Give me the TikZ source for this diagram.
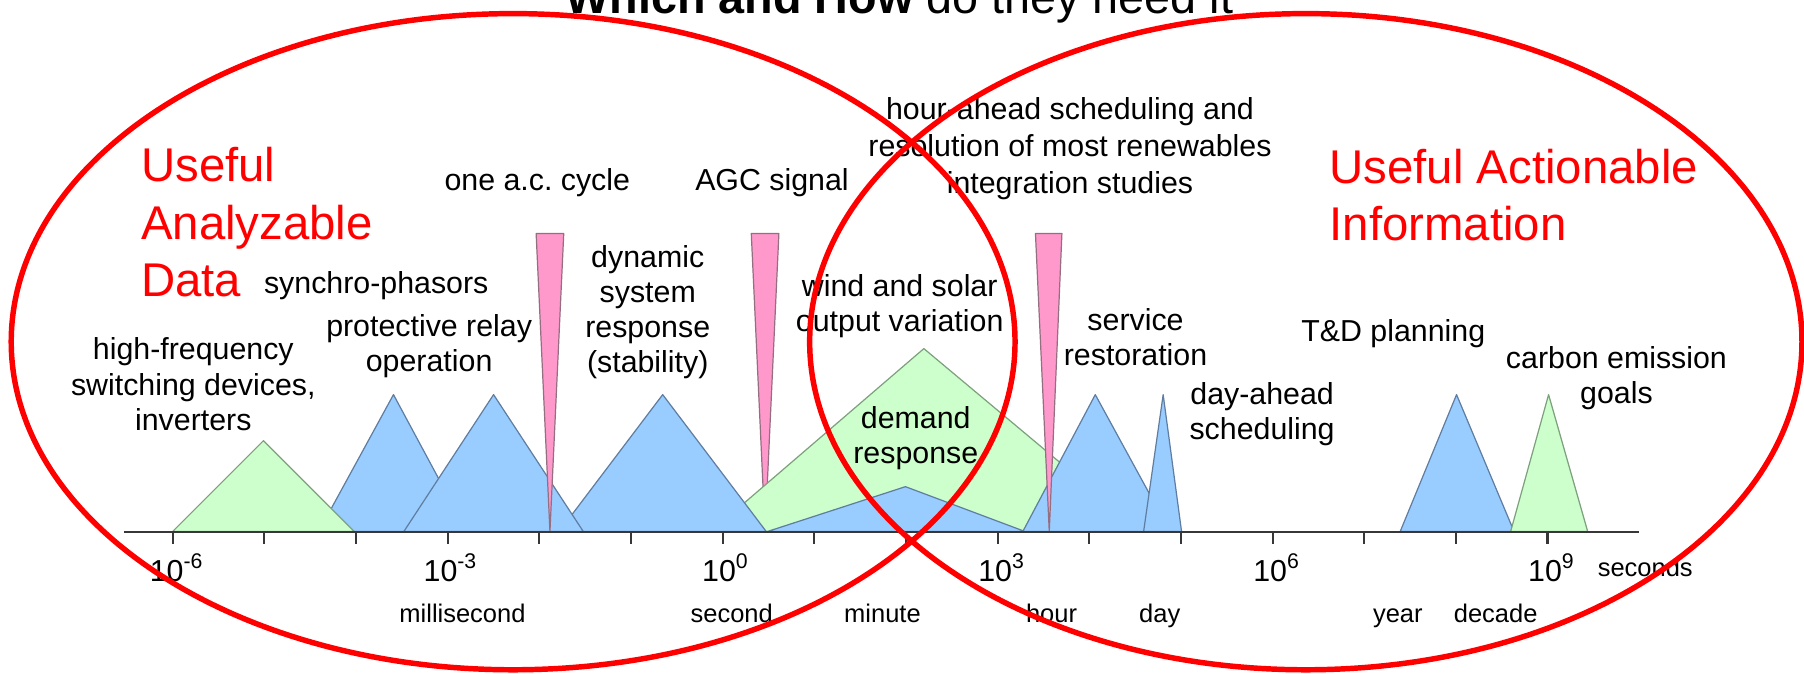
\documentclass[tikz,border=0pt]{standalone}
\usepackage{fontspec}
\setmainfont{Liberation Sans}
\usepackage{tikz}

\definecolor{tblue}{RGB}{153,204,255}
\definecolor{tgreen}{RGB}{204,255,204}
\definecolor{tpink}{RGB}{255,153,204}
\definecolor{eblue}{RGB}{95,125,160}
\definecolor{egreen}{RGB}{125,160,125}
\definecolor{epink}{RGB}{150,110,130}
\definecolor{axisgray}{RGB}{55,55,55}

\begin{document}
\begin{tikzpicture}[x=0.01cm, y=-0.01cm,
    blu/.style = {fill=tblue, draw=eblue, line width=0.3pt, line join=round},
    grn/.style = {fill=tgreen, draw=egreen, line width=0.3pt, line join=round},
    pnk/.style = {fill=tpink, draw=epink, line width=0.3pt, line join=round},
    axis/.style = {draw=axisgray, line width=0.5pt},
    lbl/.style = {font=\fontsize{7.5}{8.7}\selectfont, align=center, anchor=base, inner sep=0pt},
    big/.style = {font=\fontsize{11.7}{14.2}\selectfont, text=red, align=left, anchor=base west, inner sep=0pt},
    dec/.style = {font=\fontsize{7.5}{8.7}\selectfont, anchor=base, inner sep=0pt},
    unit/.style = {font=\fontsize{6.3}{7.5}\selectfont, anchor=base, inner sep=0pt},
    ring/.style = {draw=red, line width=1.35pt}]
    \useasboundingbox (0,0) rectangle (1568,585);

    % bands, back to front
    \filldraw[pnk] (653,203) -- (677,203) -- (665,462) -- cycle;
    \filldraw[grn] (618,462) -- (803,303) -- (993,462) -- cycle;
    \filldraw[blu] (277,462) -- (342,343) -- (406,462) -- cycle;
    \filldraw[grn] (150,462) -- (229,383) -- (308,462) -- cycle;
    \filldraw[blu] (486,462) -- (576,343) -- (666,462) -- cycle;
    \filldraw[blu] (351,462) -- (429,343) -- (507,462) -- cycle;
    \filldraw[pnk] (466,203) -- (490,203) -- (478,462) -- cycle;
    \filldraw[blu] (667,462) -- (787,423) -- (891,462) -- cycle;
    \filldraw[blu] (889,462) -- (952,343) -- (1017,462) -- cycle;
    \filldraw[blu] (994,462) -- (1011,343) -- (1027,462) -- cycle;
    \filldraw[pnk] (900,203) -- (923,203) -- (912,462) -- cycle;
    \filldraw[blu] (1217,462) -- (1266,343) -- (1316,462) -- cycle;
    \filldraw[grn] (1313,462) -- (1346,343) -- (1380,462) -- cycle;

    % time axis
    \draw[axis] (108,462) -- (1425,462);
    \foreach \k in {0,...,15}
        \draw[axis] ({150+79.67*\k},462) -- ++(0,11);

    \node[dec] (e1) at (154,505) {10\textsuperscript{-6}};
    \node[dec] (e2) at (392,505) {10\textsuperscript{-3}};
    \node[dec] (e3) at (631,505) {10\textsuperscript{0}};
    \node[dec] (e4) at (871,505) {10\textsuperscript{3}};
    \node[dec] (e5) at (1110,505) {10\textsuperscript{6}};
    \node[dec] (e6) at (1349,505) {10\textsuperscript{9}};
    \node[unit] (sec) at (1430,501) {seconds};

    \node[unit] (ms) at (402,541) {millisecond};
    \node[unit] (s) at (636,541) {second};
    \node[unit] (min) at (767,541) {minute};
    \node[unit] (h) at (914,541) {hour};
    \node[unit] (d) at (1008,541) {day};
    \node[unit] (yr) at (1215,541) {year};
    \node[unit] (dec) at (1300,541) {decade};

    % what happens on each time scale (placed by the last line)
    \node[lbl] (acc) at (467,166) {one a.c.\ cycle};
    \node[lbl] (agc) at (671,166) {AGC signal};
    \node[lbl, font=\fontsize{7.5}{9.1}\selectfont] (hour) at (930,168) {hour-ahead scheduling and\\resolution of most renewables\\integration studies};
    \node[lbl] (syn) at (327,255) {synchro-phasors};
    \node[lbl] (rel) at (373,323) {protective relay\\operation};
    \node[lbl] (dyn) at (563,324) {dynamic\\system\\response\\(stability)};
    \node[lbl] (hf) at (168,374) {high-frequency\\switching devices,\\inverters};
    \node[lbl] (wind) at (782,288) {wind and solar\\output variation};
    \node[lbl] (dem) at (796,403) {demand\\response};
    \node[lbl] (srv) at (987,318) {service\\restoration};
    \node[lbl] (day) at (1097,382) {day-ahead\\scheduling};
    \node[lbl] (td) at (1211,297) {T\&D planning};
    \node[lbl] (co2) at (1405,351) {carbon emission\\goals};

    \node[big] (data) at (122,258) {Useful\\Analyzable\\Data};
    \node[big] (info) at (1155,209) {Useful Actionable\\Information};

    \node[anchor=base west, inner sep=0pt, font=\fontsize{11.55}{14}\selectfont] (ttl) at (491,12)
        {\textbf{Which and How} do they need it};

    % the two overlapping sets
    \draw[ring] (446,297) ellipse [x radius=4.36cm, y radius=2.85cm];
    \draw[ring] (1135,297) ellipse [x radius=4.31cm, y radius=2.85cm];
\end{tikzpicture}
\end{document}
